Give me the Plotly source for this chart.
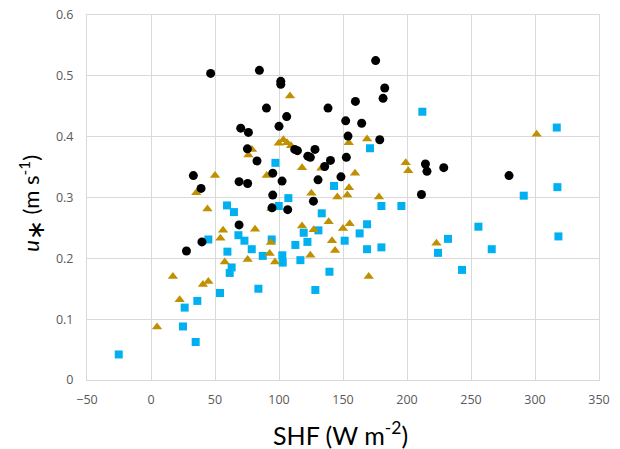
import plotly.graph_objects as go

black_x = [46.6, 84.7, 90.2, 70.1, 76.1, 75.3, 82.8, 33.1, 68.8, 75.5, 39.1, 101.4, 101.4, 106, 100,
           112.3, 114.4, 95.1, 102.4, 95.1, 175.5, 182.6, 181.3, 159.7, 138.3, 152.1, 164.6, 153.9,
           178.7, 128.1, 122.5, 124.5, 140.2, 152.6, 135.7, 148.4, 130.5, 214.4, 215.6, 211.3, 126.9,
           106.8, 94.5, 68.8, 39.8, 27.7, 228.7, 279.7]
black_y = [0.504, 0.509, 0.447, 0.414, 0.407, 0.380, 0.360, 0.336, 0.326, 0.323, 0.315, 0.491, 0.486,
           0.433, 0.417, 0.379, 0.377, 0.340, 0.327, 0.304, 0.525, 0.480, 0.463, 0.458, 0.447, 0.426,
           0.422, 0.401, 0.395, 0.379, 0.368, 0.366, 0.361, 0.366, 0.351, 0.334, 0.329, 0.355, 0.343,
           0.305, 0.294, 0.280, 0.283, 0.255, 0.227, 0.212, 0.349, 0.336]

gold_x = [78.9, 76.1, 50, 90.4, 35.4, 108.6, 99.8, 103.4, 106.3, 109.4, 118, 154.5, 168.8, 133.1,
          159.4, 199, 201, 154.7, 125.3, 145.6, 153.4, 178.1, 94, 44.1, 56.3, 54.2, 81.3, 93.7, 92.7,
          96.9, 75.5, 57.6, 40.6, 44.8, 22.4, 17.1, 4.7, 118, 138.8, 127.1, 150, 155.2, 141.4, 143.8,
          124.5, 223, 170.1, 301.3]
gold_y = [0.379, 0.370, 0.336, 0.336, 0.308, 0.467, 0.389, 0.395, 0.390, 0.385, 0.349, 0.390, 0.396,
          0.348, 0.340, 0.357, 0.344, 0.316, 0.307, 0.301, 0.304, 0.301, 0.282, 0.281, 0.246, 0.233,
          0.248, 0.226, 0.208, 0.194, 0.198, 0.194, 0.157, 0.162, 0.132, 0.170, 0.087, 0.253, 0.260,
          0.247, 0.249, 0.257, 0.229, 0.213, 0.205, 0.225, 0.170, 0.404]

blue_x = [97.2, 107.3, 212, 171.1, 143, 59.4, 64.8, 44.8, 68.3, 73, 78.7, 59.7, 94.3, 87.3, 102.6,
          102.9, 63, 61.5, 53.9, 83.9, 36.2, 26.3, 25, 34.9, -25.2, 99.8, 119.3, 122.2, 112.8, 116.7,
          180, 195.6, 133.4, 130.8, 168.8, 163, 151.3, 168.8, 180, 224.2, 139.4, 128.4, 291.2, 317.5,
          255.8, 232, 266.2, 318.3, 243, 317]
blue_y = [0.357, 0.299, 0.441, 0.381, 0.319, 0.287, 0.276, 0.231, 0.238, 0.229, 0.215, 0.211, 0.231,
          0.204, 0.205, 0.193, 0.185, 0.176, 0.143, 0.150, 0.130, 0.119, 0.088, 0.0625, 0.042, 0.286,
          0.242, 0.227, 0.222, 0.197, 0.286, 0.286, 0.274, 0.246, 0.256, 0.241, 0.229, 0.215, 0.218,
          0.209, 0.178, 0.148, 0.303, 0.317, 0.252, 0.232, 0.215, 0.236, 0.181, 0.415]

x_ticks = [-50, 0, 50, 100, 150, 200, 250, 300, 350]
y_ticks = [0, 0.1, 0.2, 0.3, 0.4, 0.5, 0.6]
y_tick_text = ["0", "0.1", "0.2", "0.3", "0.4", "0.5", "0.6"]

fig = go.Figure()
fig.add_trace(go.Scatter(x=blue_x, y=blue_y, mode="markers",
                         marker=dict(symbol="square", size=8, color="#00B0F0"), name="blue"))
fig.add_trace(go.Scatter(x=gold_x, y=gold_y, mode="markers",
                         marker=dict(symbol="triangle-up", size=9, color="#BF9000"), name="gold"))
fig.add_trace(go.Scatter(x=black_x, y=black_y, mode="markers",
                         marker=dict(symbol="circle", size=9, color="#000000"), name="black"))

grid = "#D9D9D9"
fig.update_layout(
    width=620, height=449,
    margin=dict(l=87, r=21, t=15, b=69),
    paper_bgcolor="white", plot_bgcolor="white",
    showlegend=False,
    font=dict(family="Open Sans, sans-serif", color="#595959", size=12),
    xaxis=dict(range=[-50, 350], tickvals=x_ticks, showgrid=True, gridcolor=grid, gridwidth=1,
               showline=True, linecolor=grid, mirror=True, zeroline=False, automargin=False,
               ticklabelstandoff=8, ticklabeloverflow="allow",
               tickfont=dict(size=12.5, color="#595959")),
    yaxis=dict(range=[0, 0.6], tickvals=y_ticks, ticktext=y_tick_text, showgrid=True,
               gridcolor=grid, gridwidth=1, showline=True, linecolor=grid, mirror=True,
               zeroline=False, automargin=False, ticklabelstandoff=10, ticklabeloverflow="allow",
               tickfont=dict(size=12.5, color="#595959")),
    annotations=[
        dict(text="SHF (W m<sup>-2</sup>)", xref="paper", yref="paper", x=0.495, y=-0.146,
             xanchor="center", yanchor="middle", showarrow=False,
             font=dict(size=25, color="#000000", family="Lato, sans-serif")),
        dict(text="<i>u</i><sub><span style='font-size:24px'>\u2217</span></sub> (m s<sup>-1</sup>)",
             xref="paper", yref="paper", x=-0.108, y=0.485, textangle=-90,
             xanchor="center", yanchor="middle", showarrow=False,
             font=dict(size=22, color="#000000", family="Lato, sans-serif")),
    ],
)

fig.write_html("out.html", config={"displayModeBar": False},
               post_script="document.body.style.margin='0';document.body.style.overflow='hidden';")
